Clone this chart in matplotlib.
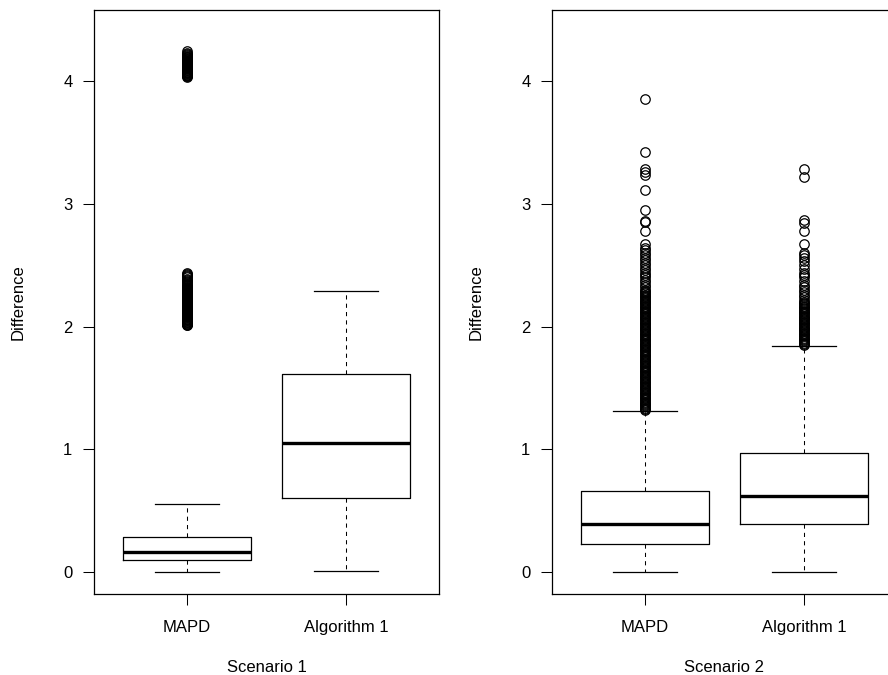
import matplotlib
matplotlib.use("Agg")
import matplotlib.pyplot as plt

categories = ["MAPD", "Algorithm 1"]
scenarios = ["Scenario 1", "Scenario 2"]
yticks = [0, 1, 2, 3, 4]

# Five-number summaries: (whislo, q1, med, q3, whishi)
s1_mapd = (0.0, 0.10, 0.165, 0.287, 0.56)
s1_alg1 = (0.01, 0.607, 1.055, 1.615, 2.29)
s2_mapd = (0.0, 0.23, 0.396, 0.664, 1.31)
s2_alg1 = (0.005, 0.39, 0.62, 0.97, 1.84)

s1_mapd_out = [2.010, 2.015, 2.020, 2.025, 2.030, 2.035, 2.040, 2.045, 2.050,
               2.055, 2.060, 2.065, 2.070, 2.075, 2.080, 2.085, 2.090, 2.095,
               2.100, 2.105, 2.110, 2.115, 2.120, 2.125, 2.130, 2.135, 2.140,
               2.145, 2.150, 2.155, 2.160, 2.165, 2.170, 2.175, 2.180, 2.185,
               2.190, 2.195, 2.200, 2.205, 2.210, 2.215, 2.220, 2.225, 2.230,
               2.235, 2.240, 2.245, 2.250, 2.255, 2.260, 2.265, 2.270, 2.275,
               2.280, 2.285, 2.290, 2.295, 2.300, 2.305, 2.310, 2.315, 2.320,
               2.330, 2.340, 2.350, 2.360, 2.370, 2.380, 2.390, 2.400, 2.410,
               2.420, 2.430, 2.440,
               4.030, 4.035, 4.040, 4.045, 4.050, 4.055, 4.060, 4.065, 4.070,
               4.075, 4.080, 4.085, 4.090, 4.095, 4.100, 4.105, 4.110, 4.115,
               4.120, 4.125, 4.130, 4.135, 4.140, 4.145, 4.150, 4.155, 4.160,
               4.165, 4.170, 4.175, 4.180, 4.185, 4.190, 4.195, 4.200, 4.210,
               4.220, 4.230, 4.240]
s1_alg1_out = []
s2_mapd_out = [1.32, 1.33, 1.34, 1.35, 1.36, 1.37, 1.38, 1.39, 1.40, 1.41,
               1.42, 1.43, 1.44, 1.45, 1.46, 1.47, 1.48, 1.49, 1.50, 1.51,
               1.52, 1.53, 1.54, 1.55, 1.56, 1.57, 1.58, 1.59, 1.60, 1.61,
               1.62, 1.63, 1.64, 1.65, 1.66, 1.67, 1.68, 1.69, 1.70, 1.71,
               1.72, 1.73, 1.74, 1.75, 1.76, 1.77, 1.78, 1.79, 1.80, 1.81,
               1.82, 1.83, 1.84, 1.85, 1.86, 1.87, 1.88, 1.89, 1.90, 1.91,
               1.92, 1.93, 1.94, 1.95, 1.96, 1.97, 1.98, 1.99, 2.00, 2.01,
               2.02, 2.03, 2.04, 2.05, 2.06, 2.07, 2.08, 2.09, 2.10, 2.11,
               2.12, 2.13, 2.14, 2.15, 2.16, 2.17, 2.18, 2.19, 2.20, 2.21,
               2.22, 2.23, 2.24, 2.25, 2.26, 2.27, 2.28, 2.29, 2.30, 2.32,
               2.34, 2.36, 2.38, 2.40, 2.42, 2.44, 2.46, 2.48, 2.50, 2.52,
               2.54, 2.56, 2.58, 2.60, 2.62, 2.64,
               2.67, 2.78, 2.85, 2.86, 2.95, 3.11, 3.23, 3.255, 3.28, 3.42, 3.85]
s2_alg1_out = [1.85, 1.86, 1.87, 1.88, 1.89, 1.90, 1.91, 1.92, 1.93, 1.94,
               1.95, 1.96, 1.97, 1.98, 1.99, 2.00, 2.01, 2.02, 2.03, 2.04,
               2.05, 2.06, 2.07, 2.08, 2.09, 2.10, 2.11, 2.12, 2.13, 2.14,
               2.15, 2.16, 2.17, 2.18, 2.19, 2.20, 2.22, 2.24, 2.26, 2.28,
               2.30, 2.32, 2.34, 2.37, 2.40, 2.42, 2.44, 2.47, 2.50, 2.53,
               2.56, 2.58, 2.60, 2.67, 2.78, 2.84, 2.87, 3.22, 3.28]

panels = [
    [(s1_mapd, s1_mapd_out), (s1_alg1, s1_alg1_out)],
    [(s2_mapd, s2_mapd_out), (s2_alg1, s2_alg1_out)],
]

plt.rcParams['font.family'] = ['Liberation Sans', 'DejaVu Sans']
fig = plt.figure(figsize=(8.88, 6.75), dpi=100)

FS = 12
W, H = 888.0, 675.0
lefts = [94, 552]
for pi, (left, panel) in enumerate(zip(lefts, panels)):
    ax = fig.add_axes([left / W, (H - 594) / H, 345 / W, 584 / H])
    stats = []
    for (name, (summ, out)) in zip(categories, panel):
        wl, q1, med, q3, wh = summ
        stats.append(dict(label=name, whislo=wl, q1=q1, med=med, q3=q3,
                          whishi=wh, fliers=out))
    ax.bxp(stats, positions=[1, 2], widths=0.8, capwidths=0.4,
           boxprops=dict(color='black', linewidth=0.9),
           medianprops=dict(color='black', linewidth=2.4,
                            solid_capstyle='butt'),
           whiskerprops=dict(color='black', linewidth=0.75,
                             linestyle=(0, (4, 4))),
           capprops=dict(color='black', linewidth=0.9),
           flierprops=dict(marker='o', markerfacecolor='none',
                           markeredgecolor='black', markersize=6.8,
                           markeredgewidth=0.9, linestyle='none'))
    ax.set_xlim(0.42, 2.58)
    ax.set_ylim(-0.176, 4.576)
    ax.set_yticks(yticks)
    ax.set_yticklabels([str(v) for v in yticks])
    ax.set_xticks([1, 2])
    ax.set_xticklabels(categories)
    ax.tick_params(axis='both', direction='out', length=8, width=0.75,
                   labelsize=FS, colors='black')
    ax.tick_params(axis='y', pad=7.5)
    ax.tick_params(axis='x', pad=11)
    for sp in ax.spines.values():
        sp.set_linewidth(0.9)
        sp.set_color('black')
    ax.set_ylabel("Difference", fontsize=FS, labelpad=27)
    ax.set_xlabel(scenarios[pi], fontsize=FS, labelpad=18)

fig.savefig("out.png", dpi=100)
